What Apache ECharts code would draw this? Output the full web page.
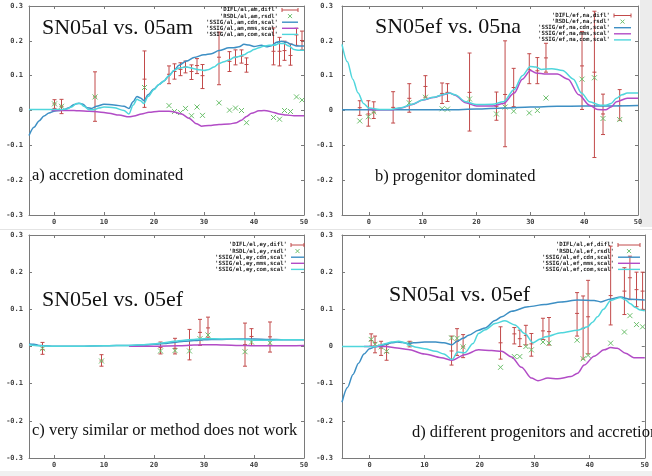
<!DOCTYPE html>
<html>
<head>
<meta charset="utf-8">
<script src="https://cdn.jsdelivr.net/npm/echarts@6/dist/echarts.min.js"></script>
<style>
html, body { margin: 0; padding: 0; background: #fff; }
#chart { width: 652px; height: 476px; }
</style>
</head>
<body>
<div id="chart"></div>
<script>
var xTicks = [0, 10, 20, 30, 40, 50];
var yTicks = [-0.3, -0.2, -0.1, 0, 0.1, 0.2, 0.3];

// panel a: SN05al vs. 05am
var aNames = ["'DIFL/al,am,difl'", "'RSDL/al,am,rsdl'", "'SSIG/al,am,cdn,scal'", "'SSIG/al,am,mms,scal'", "'SSIG/al,am,com,scal'"];
var aDifl = [[0.1,0.019,0.006,0.031],[1.5,0.012,-0.009,0.032],[8.2,0.039,-0.031,0.111],[18.1,0.09,0.009,0.171],
  [23.0,0.104,0.077,0.128],[24.1,0.112,0.09,0.134],[25.3,0.118,0.1,0.137],[26.3,0.125,0.108,0.142],
  [27.5,0.112,0.089,0.131],[28.6,0.129,0.106,0.149],[29.7,0.1,0.063,0.132],[33.0,0.153,0.074,0.225],
  [35.1,0.141,0.112,0.169],[36.3,0.153,0.131,0.174],[37.5,0.156,0.136,0.174],[38.5,0.132,0.11,0.151],
  [43.9,0.17,0.131,0.237],[45.1,0.17,0.128,0.21],[46.1,0.172,0.144,0.199],[47.3,0.158,0.13,0.191],
  [48.5,0.217,0.187,0.236],[49.6,0.201,0.174,0.228]];
var aRsdl = [[0.1,0.019],[1.5,0.012],[8.2,0.039],[18.1,0.066],[23,0.014],[24.1,-0.003],[25.3,-0.006],[26.3,0.006],
  [27.5,-0.015],[28.6,0.01],[29.7,-0.014],[33,0.022],[35.1,0.001],[36.3,0.007],[37.5,0],[38.5,-0.035],
  [43.9,-0.02],[45.1,-0.025],[46.1,0],[47.3,-0.003],[48.5,0.039],[49.6,0.03]];
var aCdn = [[-5,-0.072],[-4,-0.048],[-3,-0.03],[-2,-0.016],[-1,-0.007],[0,-0.002],[1,0],[2,0.002],[3,0.008],[4,0.017],
  [5,0.021],[5.8,0.018],[6.6,0.008],[7.5,0.006],[8.5,0.012],[10,0.018],[12,0.016],[14,0.012],[15,0.006],[15.8,0.025],
  [16.6,0.04],[17.3,0.036],[18,0.028],[18.8,0.045],[20,0.062],[21,0.075],[22,0.085],[23,0.1],[24,0.115],[25,0.13],
  [26.5,0.142],[28,0.152],[30,0.16],[31.5,0.163],[33,0.172],[35,0.18],[36,0.18],[37,0.183],[38,0.19],[39,0.188],
  [40,0.184],[41.5,0.187],[42.5,0.183],[43.5,0.186],[44.5,0.196],[45.5,0.199],[46.5,0.196],[47.5,0.19],[48.5,0.185],[50,0.185]];
var aMms = [[-0.5,0],[2,0],[4,0],[5,-0.001],[7,-0.002],[9,-0.004],[11,-0.008],[13,-0.013],[15,-0.018],[16,-0.016],
  [17.5,-0.01],[19,-0.005],[21,-0.002],[23,-0.002],[24,-0.004],[25.5,-0.01],[27,-0.022],[28.5,-0.038],[29.5,-0.045],
  [31,-0.043],[33,-0.04],[35,-0.039],[36.5,-0.035],[37.5,-0.028],[38.5,-0.017],[39.5,-0.008],[41,-0.001],[42,0],
  [43,-0.002],[44,-0.006],[45,-0.01],[46.5,-0.013],[48,-0.015],[50,-0.015]];
var aCom = [[-5,0.003],[0,0.003],[1.5,0.003],[2.5,0.004],[3.5,0.01],[4.5,0.02],[5.3,0.02],[6,0.012],[7,0.002],[8,0.002],
  [9,0.007],[10,0.01],[12,0.008],[14,0],[15,-0.01],[15.8,0.015],[16.6,0.032],[17.3,0.028],[18,0.02],[18.8,0.04],
  [20,0.06],[21,0.075],[22,0.085],[23,0.1],[24,0.115],[25,0.122],[26.5,0.125],[28,0.12],[29,0.117],[30,0.115],
  [31,0.118],[32,0.125],[33,0.135],[34,0.14],[35,0.145],[36,0.152],[37,0.155],[38,0.16],[39,0.168],[40,0.175],
  [41,0.18],[42,0.185],[43,0.187],[44,0.187],[45,0.192],[46,0.192],[47,0.185],[48,0.175],[49,0.173],[50,0.173]];

// panel b: SN05ef vs. 05na
var bNames = ["'DIFL/ef,na,difl'", "'RSDL/ef,na,rsdl'", "'SSIG/ef,na,cdn,scal'", "'SSIG/ef,na,mms,scal'", "'SSIG/ef,na,com,scal'"];
var bDifl = [[-1.7,0.008,-0.014,0.028],[-0.1,-0.01,-0.045,0.028],[0.9,-0.005,-0.023,0.025],[4.5,0.009,-0.036,0.054],
  [7.5,0.035,-0.005,0.077],[10.5,0.069,0.038,0.1],[13.6,0.049,0.02,0.079],[14.6,0.052,0.026,0.077],
  [18.7,0.052,-0.059,0.165],[23.7,0.012,-0.028,0.053],[25.3,0.046,-0.104,0.2],[26.9,0.066,0.011,0.121],
  [29.8,0.117,0.077,0.163],[31.3,0.114,0.077,0.152],[32.9,0.151,0.11,0.193],[39.6,0.128,0.003,0.227],
  [41.9,0.11,-0.135,0.285],[43.5,-0.01,-0.069,0.047],[46.6,0.014,-0.028,0.06]];
var bRsdl = [[-1.7,-0.03],[-0.1,-0.018],[0.9,-0.004],[7.5,0.022],[10.5,0.038],[13.6,0.005],[14.6,0.004],[18.7,0.033],
  [23.7,-0.01],[25.3,0.01],[26.9,-0.002],[29.8,-0.007],[31.3,0],[32.9,0.036],[39.6,0.09],[41.9,0.094],
  [43.5,-0.023],[46.6,-0.026]];
var bCdn = [[-5,0.002],[5,0.002],[15,0.002],[20,0.004],[25,0.007],[30,0.01],[35,0.012],[40,0.013],[45,0.013],[50,0.014]];
var bMms = [[0,0.003],[4,0.002],[6,0.007],[8,0.017],[10,0.03],[12,0.037],[14,0.046],[15,0.05],[16,0.044],[18,0.022],
  [20,0.013],[23,0.013],[25,0.02],[27,0.05],[28.5,0.09],[30,0.115],[31,0.108],[33,0.105],[35,0.105],[37,0.09],
  [39,0.045],[41,0.015],[42.5,0.003],[44,0.002],[45,0.01],[46,0.025],[48,0.035],[50,0.035]];
var bCom = [[-5,0.19],[-4,0.14],[-3,0.09],[-2,0.05],[-1,0.02],[0,0.007],[2,0.003],[4,0.003],[6,0.008],[8,0.018],
  [10,0.03],[12,0.038],[14,0.047],[15,0.05],[16,0.045],[18,0.025],[20,0.017],[23,0.018],[25,0.025],[27,0.06],
  [28.5,0.1],[30,0.126],[31,0.125],[32,0.118],[34,0.12],[36,0.115],[38,0.09],[39.5,0.05],[41,0.025],[43,0.015],
  [44,0.015],[45,0.02],[46,0.035],[47,0.045],[48,0.05],[50,0.05]];

// panel c: SN05el vs. 05ef
var cNames = ["'DIFL/el,ey,difl'", "'RSDL/el,ey,rsdl'", "'SSIG/el,ey,cdn,scal'", "'SSIG/el,ey,mms,scal'", "'SSIG/el,ey,com,scal'"];
var cDifl = [[-2.3,-0.008,-0.021,0.011],[9.5,-0.039,-0.053,-0.022],[21.3,-0.003,-0.02,0.012],[24.2,-0.005,-0.02,0.022],
  [27.1,0.003,-0.036,0.046],[29.2,0.038,0.003,0.073],[30.8,0.05,0.023,0.079],[38.2,0.005,-0.053,0.063],
  [39.5,0.027,0.003,0.048],[43.2,0.026,-0.015,0.066]];
var cRsdl = [[-2.3,-0.006],[9.5,-0.039],[21.3,-0.012],[24.2,-0.011],[27.1,-0.012],[29.2,0.021],[30.8,0.031],
  [38.2,-0.014],[39.5,0.012],[43.2,0.01]];
var cCdn = [[-5,0.007],[-4,0.006],[-3,0.003],[-2,0.002],[0,0.001],[5,0.001],[10,0.002],[15,0.003],[18,0.004],[20,0.006],
  [22,0.008],[24,0.011],[26,0.014],[28,0.016],[30,0.018],[33,0.019],[36,0.02],[40,0.02],[43,0.019],[46,0.018],[50,0.018]];
var cMms = [[15,0.001],[20,0.001],[25,0.002],[28,0.004],[31,0.005],[34,0.004],[37,0.003],[40,0.002],[45,0.002],[50,0.003]];
var cCom = [[-5,0.005],[-3,0.002],[0,0.001],[5,0.001],[10,0.002],[15,0.003],[18,0.005],[20,0.007],[22,0.01],[24,0.014],
  [26,0.017],[28,0.019],[30,0.021],[32,0.021],[35,0.02],[38,0.019],[40,0.017],[43,0.017],[46,0.018],[50,0.018]];

// panel d: SN05al vs. 05ef
var dNames = ["'DIFL/al,ef,difl'", "'RSDL/al,ef,rsdl'", "'SSIG/al,ef,cdn,scal'", "'SSIG/al,ef,mms,scal'", "'SSIG/al,ef,com,scal'"];
var dDifl = [[0.3,0.016,0.001,0.034],[1.0,0.01,-0.017,0.028],[2.1,-0.004,-0.024,0.014],[3.1,-0.016,-0.037,0.005],
  [7.3,0.007,-0.001,0.014],[14.9,-0.012,-0.05,0.028],[15.9,0.014,-0.024,0.048],[17.0,-0.001,-0.03,0.032],
  [23.8,0.01,-0.034,0.053],[26.3,0.034,0.007,0.051],[27.3,0.021,0,0.044],[28.4,0.03,0.004,0.057],
  [29.4,0.007,-0.026,0.035],[31.5,0.042,0.019,0.076],[32.6,0.04,0.004,0.078],[37.7,0.089,0.028,0.145],
  [38.8,0.049,-0.034,0.136],[39.7,0.08,-0.02,0.178],[43.8,0.137,0.058,0.27],[46.3,0.149,0.086,0.212],
  [47.3,0.185,0.126,0.243],[48.5,0.153,0.107,0.2],[49.6,0.149,0.1,0.2]];
var dRsdl = [[0.3,0.019],[1,0.006],[2.1,-0.001],[3.1,-0.013],[7.3,0.007],[14.9,0.023],[15.9,0.022],[17,-0.001],
  [23.8,-0.056],[26.3,-0.027],[27.3,-0.027],[28.4,0],[29.4,-0.009],[31.5,0.012],[32.6,0.009],[37.7,0.017],
  [38.8,-0.033],[39.7,-0.024],[43.8,0.009],[46.3,0.039],[47.3,0.083],[48.5,0.059],[49.6,0.053]];
var dCdn = [[-5,-0.15],[-4,-0.11],[-3,-0.075],[-2,-0.045],[-1,-0.02],[0,-0.006],[1,-0.001],[2,0.002],[3,0.006],[4,0.01],
  [5,0.012],[6,0.011],[7,0.008],[8,0.01],[10,0.012],[12,0.012],[13.5,0.01],[15,0.005],[16,0.015],[17,0.022],[18,0.03],
  [19.8,0.044],[21,0.05],[22.8,0.07],[24,0.08],[25.8,0.095],[28.8,0.107],[31.8,0.113],[34.8,0.12],[37.8,0.125],
  [40.8,0.124],[42,0.12],[43.8,0.128],[45.6,0.133],[47.4,0.127],[50,0.125]];
var dMms = [[-1,0],[0,0],[3,0],[5,-0.004],[7,-0.008],[10,-0.02],[13,-0.03],[15,-0.037],[17.3,-0.022],[19.8,-0.009],
  [22.2,-0.011],[24,-0.013],[25.8,-0.028],[27.6,-0.056],[29.4,-0.085],[30.6,-0.092],[32.4,-0.085],[34.2,-0.087],
  [36.6,-0.081],[37.8,-0.072],[39,-0.05],[40.8,-0.026],[42.6,-0.009],[43.8,-0.003],[45,-0.005],[46.5,-0.018],[48,-0.03],[50,-0.03]];
var dCom = [[-5,0],[-1,0],[0,0],[1,-0.001],[2,0.004],[3,0.008],[4,0.012],[5.3,0.014],[6.5,0.01],[7.3,0.003],[8.5,-0.002],
  [10,-0.006],[12,-0.013],[13.5,-0.02],[15,-0.035],[16,-0.015],[17.3,-0.017],[18.8,0.008],[19.8,0.035],[21,0.045],
  [22.8,0.062],[24.6,0.069],[26.4,0.058],[28.2,0.035],[29.7,0.01],[31,0.02],[32,0.026],[34.8,0.037],[37.8,0.044],
  [39.6,0.053],[40.5,0.065],[41.4,0.08],[42.5,0.1],[43.8,0.124],[45.6,0.132],[46.5,0.125],[47.4,0.115],[48.3,0.105],
  [49.2,0.098],[50,0.096]];

var RED = '#c24a4a', GREEN = '#6cc06c', CDN = '#3d8fc4', MMS = '#b24cc6', COM = '#4fd6dc', AXIS = '#7a7a7a';
var tickFont = { fontSize: 7, fontWeight: 'bold', fontFamily: 'DejaVu Sans Mono', color: '#444' };

var panels = [
  { rect: { left: 29, top: 6, width: 275, height: 209 }, names: aNames, difl: aDifl, rsdl: aRsdl, cdn: aCdn, mms: aMms, com: aCom,
    title: 'SN05al vs. 05am', tx: 42, ty: 28, note: 'a) accretion dominated', nx: 32, ny: 176,
    lx: 278, ly: 10, lw: 16 },
  { rect: { left: 342, top: 6, width: 296, height: 209 }, names: bNames, difl: bDifl, rsdl: bRsdl, cdn: bCdn, mms: bMms, com: bCom,
    title: 'SN05ef vs. 05na', tx: 375, ty: 27, note: 'b) progenitor dominated', nx: 375, ny: 177,
    lx: 610, ly: 15.5, lw: 17 },
  { rect: { left: 29, top: 235, width: 275, height: 223 }, names: cNames, difl: cDifl, rsdl: cRsdl, cdn: cCdn, mms: cMms, com: cCom,
    title: 'SN05el vs. 05ef', tx: 42, ty: 300, note: 'c) very similar or method does not work', nx: 32, ny: 431,
    lx: 287, ly: 245, lw: 13 },
  { rect: { left: 342, top: 235, width: 306, height: 223 }, names: dNames, difl: dDifl, rsdl: dRsdl, cdn: dCdn, mms: dMms, com: dCom,
    title: 'SN05al vs. 05ef', tx: 389, ty: 295, note: 'd) different progenitors and accretion', nx: 412, ny: 433,
    lx: 614, ly: 245, lw: 22 }
];

function renderErr(params, api) {
  var x = api.value(0);
  var c = api.coord([x, api.value(1)]);
  var lo = api.coord([x, api.value(2)]);
  var hi = api.coord([x, api.value(3)]);
  var st = { stroke: RED, lineWidth: 1 };
  return { type: 'group', children: [
    { type: 'line', shape: { x1: c[0], y1: lo[1], x2: c[0], y2: hi[1] }, style: st },
    { type: 'line', shape: { x1: c[0] - 2, y1: lo[1], x2: c[0] + 2, y2: lo[1] }, style: st },
    { type: 'line', shape: { x1: c[0] - 2, y1: hi[1], x2: c[0] + 2, y2: hi[1] }, style: st },
    { type: 'line', shape: { x1: c[0] - 2, y1: c[1], x2: c[0] + 2, y2: c[1] }, style: st }
  ] };
}

function renderCross(params, api) {
  var p = api.coord([api.value(0), api.value(1)]);
  var st = { stroke: GREEN, lineWidth: 1 };
  return { type: 'group', children: [
    { type: 'line', shape: { x1: p[0] - 2.5, y1: p[1] - 2.5, x2: p[0] + 2.5, y2: p[1] + 2.5 }, style: st },
    { type: 'line', shape: { x1: p[0] - 2.5, y1: p[1] + 2.5, x2: p[0] + 2.5, y2: p[1] - 2.5 }, style: st }
  ] };
}

var grids = [], xAxes = [], yAxes = [], series = [], graphics = [];

graphics.push({ type: 'rect', shape: { x: 640, y: 0, width: 12, height: 227 }, style: { fill: '#ececec' }, z: -1 });
graphics.push({ type: 'rect', shape: { x: 0, y: 471, width: 652, height: 5 }, style: { fill: '#f0f0f0' }, z: -1 });
graphics.push({ type: 'line', shape: { x1: 0, y1: 229.5, x2: 652, y2: 229.5 }, style: { stroke: '#e4e4e4', lineWidth: 1 }, z: -1 });

panels.forEach(function (p, i) {
  grids.push(p.rect);
  var tick = { inside: true, length: 3, lineStyle: { color: AXIS } };
  var line = { onZero: false, lineStyle: { color: AXIS, width: 1 } };
  xAxes.push({ type: 'value', gridIndex: i, min: -5, max: 50, position: 'bottom', axisLine: line,
    axisTick: Object.assign({ customValues: xTicks }, tick), splitLine: { show: false },
    axisLabel: Object.assign({ customValues: xTicks, margin: 4 }, tickFont) });
  xAxes.push({ type: 'value', gridIndex: i, min: -5, max: 50, position: 'top', axisLine: line,
    axisTick: Object.assign({ customValues: xTicks }, tick), splitLine: { show: false }, axisLabel: { show: false } });
  yAxes.push({ type: 'value', gridIndex: i, min: -0.3, max: 0.3, position: 'left', axisLine: line,
    axisTick: Object.assign({ customValues: yTicks }, tick), splitLine: { show: false },
    axisLabel: Object.assign({ customValues: yTicks, margin: i % 2 ? 9 : 6,
      formatter: function (v) { return Math.abs(v) < 1e-9 ? '0' : v.toFixed(1); } }, tickFont) });
  yAxes.push({ type: 'value', gridIndex: i, min: -0.3, max: 0.3, position: 'right', axisLine: line,
    axisTick: Object.assign({ customValues: yTicks }, tick), splitLine: { show: false }, axisLabel: { show: false } });

  var xi = i * 2, yi = i * 2;
  series.push({ name: p.names[0], type: 'custom', xAxisIndex: xi, yAxisIndex: yi, renderItem: renderErr, data: p.difl, clip: true, z: 2 });
  series.push({ name: p.names[1], type: 'custom', xAxisIndex: xi, yAxisIndex: yi, renderItem: renderCross, data: p.rsdl, clip: true, z: 3 });
  [[p.cdn, CDN], [p.mms, MMS], [p.com, COM]].forEach(function (s, k) {
    series.push({ name: p.names[k + 2], type: 'line', xAxisIndex: xi, yAxisIndex: yi, data: s[0], showSymbol: false,
      smooth: 0.3, smoothMonotone: 'x', lineStyle: { color: s[1], width: 1.5 }, itemStyle: { color: s[1] }, z: 4 + k });
  });

  graphics.push({ type: 'text', style: { text: p.title, x: p.tx, y: p.ty, font: '22px "Liberation Serif"', fill: '#111', textVerticalAlign: 'middle' }, z: 10 });
  graphics.push({ type: 'text', style: { text: p.note, x: p.nx, y: p.ny, font: '16.5px "Liberation Serif"', fill: '#111', textVerticalAlign: 'middle' }, z: 10 });

  // key
  var colors = [RED, GREEN, CDN, MMS, COM];
  p.names.forEach(function (nm, k) {
    var yy = p.ly + k * 6.1;
    graphics.push({ type: 'text', style: { text: nm, x: p.lx, y: yy, font: 'bold 5.7px "DejaVu Sans Mono"', fill: '#222', textAlign: 'right', textVerticalAlign: 'middle' }, z: 10 });
    var x0 = p.lx + 4, x1 = x0 + p.lw;
    if (k === 0) {
      graphics.push({ type: 'line', shape: { x1: x0, y1: yy, x2: x1, y2: yy }, style: { stroke: RED, lineWidth: 1 }, z: 10 });
      graphics.push({ type: 'line', shape: { x1: x0, y1: yy - 2, x2: x0, y2: yy + 2 }, style: { stroke: RED, lineWidth: 1 }, z: 10 });
      graphics.push({ type: 'line', shape: { x1: x1, y1: yy - 2, x2: x1, y2: yy + 2 }, style: { stroke: RED, lineWidth: 1 }, z: 10 });
    } else if (k === 1) {
      var cx = (x0 + x1) / 2;
      graphics.push({ type: 'line', shape: { x1: cx - 2, y1: yy - 2, x2: cx + 2, y2: yy + 2 }, style: { stroke: GREEN, lineWidth: 1 }, z: 10 });
      graphics.push({ type: 'line', shape: { x1: cx - 2, y1: yy + 2, x2: cx + 2, y2: yy - 2 }, style: { stroke: GREEN, lineWidth: 1 }, z: 10 });
    } else {
      graphics.push({ type: 'line', shape: { x1: x0, y1: yy, x2: x1, y2: yy }, style: { stroke: colors[k], lineWidth: 1.4 }, z: 10 });
    }
  });
});

var chart = echarts.init(document.getElementById('chart'));
chart.setOption({
  animation: false,
  backgroundColor: '#fff',
  grid: grids,
  xAxis: xAxes,
  yAxis: yAxes,
  series: series,
  graphic: graphics
});
</script>
</body>
</html>
